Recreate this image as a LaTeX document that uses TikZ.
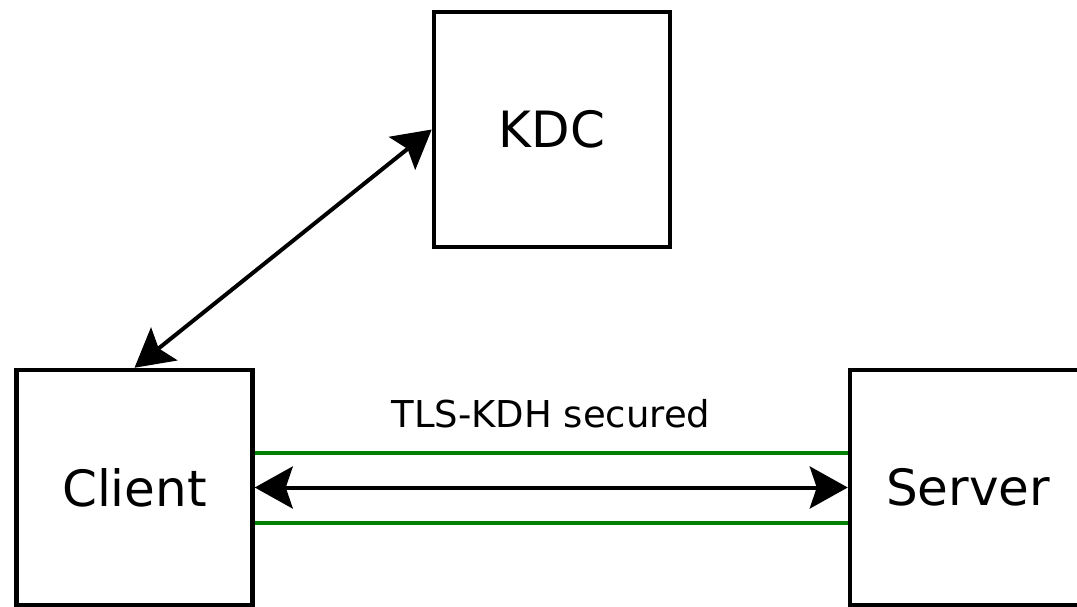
\documentclass[tikz,border=0pt]{standalone}
\usepackage{fontspec}
\setmainfont{DejaVu Sans}
\usetikzlibrary{arrows.meta}
\definecolor{linkgreen}{RGB}{0,128,0}
\tikzset{
  box/.style={draw=black, line width=4.5pt, minimum width=236pt, minimum height=235pt, inner sep=0pt, font=\fontsize{50}{60}\selectfont},
  link/.style={line width=4pt, {Stealth[length=38pt,width=42pt,inset=7pt]}-{Stealth[length=38pt,width=42pt,inset=7pt]}},
  secure/.style={draw=linkgreen, line width=4pt}
}
\begin{document}
\begin{tikzpicture}[x=1pt,y=-1pt]
\useasboundingbox (0,0) rectangle (1077,606);
\clip (0,0) rectangle (1077,606);
\node[box] (kdc) at (552,129.5) {KDC};
\node[box] (client) at (134.5,487.5) {Client};
\node[box] (server) at (968,487.5) {Server};
\node[anchor=base, font=\fontsize{37}{44}\selectfont] (label) at (551,427) {TLS-KDH secured};
\draw[secure] ([yshift=35pt]client.east) -- ([yshift=35pt]server.west);
\draw[secure] ([yshift=-35pt]client.east) -- ([yshift=-35pt]server.west);
\draw[link] (client.east) -- (server.west);
\draw[link] (client.north) -- (kdc.west);
\end{tikzpicture}
\end{document}
